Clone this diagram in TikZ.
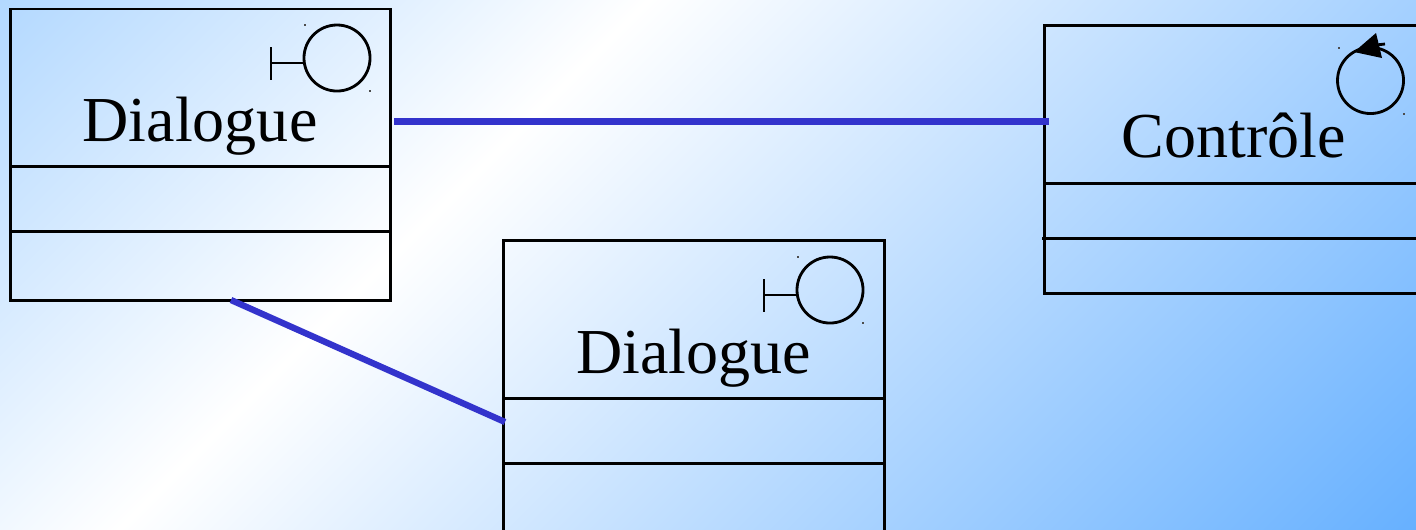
\documentclass[tikz,border=0pt]{standalone}
\usepackage{fontspec}
\setmainfont{Liberation Serif}
\definecolor{bgA}{HTML}{B2D8FF}
\definecolor{bgB}{HTML}{66B0FF}
\definecolor{connblue}{HTML}{3333CC}
\pgfdeclarehorizontalshading{bgshade}{100bp}{color(0bp)=(bgA); color(33.4bp)=(white); color(100bp)=(bgB)}
\tikzset{
  classbox/.style={draw=black,line width=0.8pt,rectangle,inner sep=0pt,outer sep=0pt},
  rowline/.style={draw=black,line width=0.85pt},
  conn/.style={draw=connblue,line width=1.8pt},
  iconline/.style={draw=black,line width=0.8pt},
  iconcircle/.style={draw=black,line width=0.8pt,circle,inner sep=0pt,outer sep=0pt,minimum size=0.66cm},
  speck/.style={fill=black!70,inner sep=0pt,outer sep=0pt,minimum size=0.015cm,rectangle},
  label/.style={anchor=base,inner sep=0pt,font=\fontsize{18.22pt}{20pt}\selectfont}
}
\begin{document}
\begin{tikzpicture}[x=0.01cm,y=-0.01cm]
\useasboundingbox (0,0) rectangle (1416,529);
\clip (0,0) rectangle (1416,529);
\node[inner sep=0pt,outer sep=0pt,rotate=-45,scale=3.913] (bg) at (708,264.5) {\pgfuseshading{bgshade}};

% class boxes
\node[classbox,minimum width=3.80cm,minimum height=2.91cm] (b1) at (200.5,154.5) {};
\node[classbox,minimum width=3.81cm,minimum height=3.20cm] (b2) at (694,400.5) {};
\node[classbox,minimum width=4.06cm,minimum height=2.68cm] (b3) at (1247.5,159.5) {};

% compartment lines
\draw[rowline] (b1.west |- 0,166.4) -- (b1.east |- 0,166.4);
\draw[rowline] (b1.west |- 0,231.4) -- (b1.east |- 0,231.4);
\draw[rowline] (b2.west |- 0,398.4) -- (b2.east |- 0,398.4);
\draw[rowline] (b2.west |- 0,463.4) -- (b2.east |- 0,463.4);
\draw[rowline] (b3.west |- 0,183.4) -- (b3.east |- 0,183.4);
\draw[rowline] (1042,238.4) -- (b3.east |- 0,238.4);

% labels
\node[label] (t1) at (200,141) {Dialogue};
\node[label] (t2) at (693.5,373) {Dialogue};
\node[label] (t3) at (1234,157) {Contrôle};

% boundary icons
\node[iconcircle] (c1) at (337,58) {};
\coordinate (s1) at (271,63);
\draw[iconline] (271,47) -- (271,80);
\draw[iconline] (s1) -- (c1.west |- s1);
\node[speck] (d1a) at (305,25) {};
\node[speck] (d1b) at (370,91) {};

\node[iconcircle] (c2) at (830,290) {};
\coordinate (s2) at (764,295);
\draw[iconline] (764,279) -- (764,312);
\draw[iconline] (s2) -- (c2.west |- s2);
\node[speck] (d2a) at (798,257) {};
\node[speck] (d2b) at (863,323) {};

% control icon
\node[iconcircle] (c3) at (1370.5,80.5) {};
\draw[iconline] (1376,45) -- (1385,44);
\fill[black] (1376,33) -- (1354,52) -- (1382,58) -- cycle;
\node[speck] (d3a) at (1339,48) {};
\node[speck] (d3b) at (1404,114) {};

% connectors
\coordinate (a1) at (394,121.5);
\coordinate (a2) at (1049,121.5);
\coordinate (e1) at (231,300);
\coordinate (e2) at (505,422);
\draw[conn] (a1) -- (a2);
\draw[conn] (e1) -- (e2);
\end{tikzpicture}
\end{document}
